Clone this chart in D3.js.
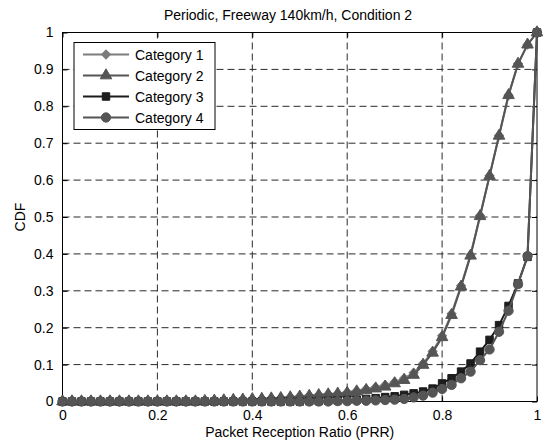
<!DOCTYPE html>
<html><head><meta charset="utf-8">
<script src="https://cdn.jsdelivr.net/npm/d3@7"></script>
<style>body{margin:0;background:#fff}svg{display:block}text{font-family:"Liberation Sans",Arial,sans-serif;fill:#000}</style>
</head><body>
<script>
const title = "Periodic, Freeway 140km/h, Condition 2";
const xLabel = "Packet Reception Ratio (PRR)";
const yLabel = "CDF";
const categories = ["Category 1","Category 2","Category 3","Category 4"];
const xValues = [0,0.02,0.04,0.06,0.08,0.10,0.12,0.14,0.16,0.18,0.20,0.22,0.24,0.26,0.28,0.30,0.32,0.34,0.36,0.38,0.40,0.42,0.44,0.46,0.48,0.50,0.52,0.54,0.56,0.58,0.60,0.62,0.64,0.66,0.68,0.70,0.72,0.74,0.76,0.78,0.80,0.82,0.84,0.86,0.88,0.90,0.92,0.94,0.96,0.98,1.00];
const cat1 = [0,0,0,0,0,0,0,0,0,0,0,0,0,0,0,0.001,0.002,0.003,0.004,0.005,0.006,0.007,0.009,0.010,0.012,0.014,0.016,0.018,0.020,0.022,0.025,0.029,0.034,0.039,0.045,0.053,0.063,0.078,0.103,0.136,0.178,0.238,0.314,0.398,0.504,0.612,0.721,0.830,0.915,0.967,1.0];
const cat2 = [0,0,0,0,0,0,0,0,0,0,0,0,0,0,0,0.001,0.002,0.003,0.004,0.005,0.006,0.007,0.008,0.009,0.011,0.013,0.015,0.017,0.019,0.021,0.023,0.027,0.031,0.035,0.040,0.049,0.058,0.072,0.099,0.132,0.174,0.234,0.311,0.395,0.502,0.611,0.720,0.830,0.915,0.967,1.0];
const cat3 = [0,0,0,0,0,0,0,0,0,0,0,0,0,0,0,0,0,0,0,0,0,0,0,0,0,0,0.001,0.001,0.002,0.003,0.004,0.005,0.007,0.009,0.012,0.014,0.018,0.022,0.027,0.035,0.049,0.063,0.081,0.103,0.135,0.167,0.207,0.259,0.320,0.392,1.0];
const cat4 = [0,0,0,0,0,0,0,0,0,0,0,0,0,0,0,0,0,0,0,0,0,0,0,0,0,0,0,0,0,0.001,0.001,0.002,0.002,0.003,0.004,0.005,0.007,0.011,0.016,0.024,0.034,0.045,0.063,0.081,0.112,0.141,0.189,0.246,0.318,0.394,1.0];
const xTicks = [0,0.2,0.4,0.6,0.8,1];
const yTicks = [0,0.1,0.2,0.3,0.4,0.5,0.6,0.7,0.8,0.9,1];

const seriesList = [
  {name: categories[0], values: cat1, color: "#7c7c7c", shape: d3.symbolSquare, size: 40, rot: 45},
  {name: categories[1], values: cat2, color: "#555555", shape: d3.symbolTriangle, size: 58, rot: 0},
  {name: categories[2], values: cat3, color: "#1c1c1c", shape: d3.symbolSquare, size: 56, rot: 0},
  {name: categories[3], values: cat4, color: "#555555", shape: d3.symbolCircle, size: 68, rot: 0}
];

const W = 544, H = 443;
const svg = d3.select("body").append("svg").attr("width", W).attr("height", H);
const x = d3.scaleLinear().domain([0,1]).range([62.5, 537]);
const y = d3.scaleLinear().domain([0,1]).range([401.5, 32.5]);

// grid
const g = svg.append("g");
g.selectAll(".gx").data(xTicks.filter(t => t > 0 && t < 1)).join("line")
  .attr("x1", d => x(d)).attr("x2", d => x(d)).attr("y1", y(0)).attr("y2", y(1))
  .attr("stroke", "#2a2a2a").attr("stroke-width", 1).attr("stroke-dasharray", "7,4");
g.selectAll(".gy").data(yTicks.filter(t => t > 0 && t < 1)).join("line")
  .attr("y1", d => y(d)).attr("y2", d => y(d)).attr("x1", x(0)).attr("x2", x(1))
  .attr("stroke", "#2a2a2a").attr("stroke-width", 1).attr("stroke-dasharray", "7,4");

// axes
const fmt = d => d3.format("")(d);
svg.append("g").attr("transform", `translate(0,${y(0)})`)
  .call(d3.axisBottom(x).tickValues(xTicks).tickSizeInner(-5).tickSizeOuter(0).tickPadding(9).tickFormat(fmt))
  .call(s => { s.select(".domain").remove(); s.selectAll("text").attr("font-size", 14).style("font-family", "Liberation Sans, Arial"); s.selectAll("line").attr("stroke", "#000"); });
svg.append("g").attr("transform", `translate(0,${y(1)})`)
  .call(d3.axisTop(x).tickValues(xTicks).tickSizeInner(-5).tickSizeOuter(0).tickFormat(""))
  .call(s => { s.select(".domain").remove(); });
svg.append("g").attr("transform", `translate(${x(0)},0)`)
  .call(d3.axisLeft(y).tickValues(yTicks).tickSizeInner(-5).tickSizeOuter(0).tickPadding(9).tickFormat(fmt))
  .call(s => { s.select(".domain").remove(); s.selectAll("text").attr("font-size", 14).style("font-family", "Liberation Sans, Arial"); });
svg.append("g").attr("transform", `translate(${x(1)},0)`)
  .call(d3.axisRight(y).tickValues(yTicks).tickSizeInner(-5).tickSizeOuter(0).tickFormat(""))
  .call(s => { s.select(".domain").remove(); });
svg.append("rect").attr("x", x(0)).attr("y", y(1)).attr("width", x(1)-x(0)).attr("height", y(0)-y(1))
  .attr("fill", "none").attr("stroke", "#000").attr("stroke-width", 1);

// series
const line = d3.line().x((d,i) => x(xValues[i])).y(d => y(d));
seriesList.forEach(s => {
  svg.append("path").datum(s.values).attr("d", line).attr("fill", "none")
    .attr("stroke", s.color).attr("stroke-width", 2);
  svg.append("g").selectAll("path").data(s.values).join("path")
    .attr("transform", (d,i) => `translate(${x(xValues[i])},${y(d)}) rotate(${s.rot})`)
    .attr("d", d3.symbol().type(s.shape).size(s.size))
    .attr("fill", s.color).attr("stroke", s.color).attr("stroke-width", 1);
});

// title & labels
svg.append("text").attr("x", 288).attr("y", 20).attr("text-anchor", "middle").attr("font-size", 14).text(title);
svg.append("text").attr("x", x(0.5)).attr("y", 437).attr("text-anchor", "middle").attr("font-size", 14).text(xLabel);
svg.append("text").attr("transform", "translate(25,217) rotate(-90)").attr("text-anchor", "middle").attr("font-size", 14).text(yLabel);

// legend
const leg = svg.append("g");
leg.append("rect").attr("x", 74).attr("y", 42.5).attr("width", 141).attr("height", 87)
  .attr("fill", "#fff").attr("stroke", "#000").attr("stroke-width", 1);
seriesList.forEach((s, i) => {
  const ly = 54.5 + i * 21;
  leg.append("line").attr("x1", 83).attr("x2", 129).attr("y1", ly).attr("y2", ly)
    .attr("stroke", s.color).attr("stroke-width", 2);
  leg.append("path").attr("transform", `translate(106,${ly}) rotate(${s.rot})`)
    .attr("d", d3.symbol().type(s.shape).size(s.size)).attr("fill", s.color).attr("stroke", s.color);
  leg.append("text").attr("x", 135).attr("y", ly + 5).attr("font-size", 14).text(s.name);
});
</script>
</body></html>
